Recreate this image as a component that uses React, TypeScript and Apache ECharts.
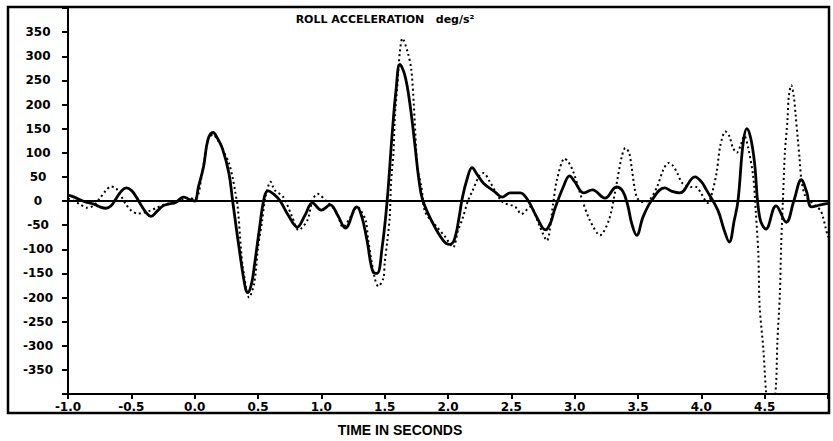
import React, { useEffect, useRef } from "react";
import * as echarts from "echarts";

// Measured roll acceleration (solid curve)
const measuredTime = [
  -1.0, -0.95, -0.9, -0.85, -0.8, -0.75, -0.7, -0.66, -0.62, -0.58, -0.54, -0.5, -0.46, -0.42, -0.38, -0.345, -0.3, -0.25,
  -0.2, -0.15, -0.09, -0.04, 0.0, 0.03, 0.07, 0.105, 0.145, 0.18, 0.22, 0.27, 0.3, 0.35, 0.4, 0.42, 0.45, 0.47, 0.51,
  0.55, 0.58, 0.62, 0.67, 0.74, 0.81, 0.87, 0.93, 1.0, 1.07, 1.13, 1.19, 1.28, 1.32, 1.36, 1.41, 1.44, 1.48, 1.52,
  1.56, 1.59, 1.62, 1.66, 1.7, 1.74, 1.77, 1.8, 1.88, 1.96, 2.01, 2.05, 2.09, 2.11, 2.15, 2.19, 2.23, 2.28, 2.37,
  2.43, 2.49, 2.57, 2.63, 2.7, 2.77, 2.81, 2.84, 2.91, 2.96, 3.0, 3.07, 3.14, 3.24, 3.33, 3.38, 3.42, 3.45, 3.49,
  3.54, 3.61, 3.71, 3.77, 3.83, 3.95, 4.0, 4.04, 4.13, 4.18, 4.22, 4.26, 4.29, 4.33, 4.36, 4.39, 4.42, 4.46, 4.51,
  4.59, 4.67, 4.73, 4.79, 4.83, 4.87, 4.94, 5.0,
];
const measuredValue = [
  12, 8, 2, -3, -6, -12, -15, -10, 5, 20, 27, 22, 8, -10, -25, -32, -22, -10,
  -6, -3, 8, 3, 0, 30, 71, 127, 142, 130, 108, 58, 0, -96, -180, -190, -170, -137, -60,
  8, 21, 15, 2, -30, -54, -30, -4, -19, -8, -30, -56, -12, -33, -81, -148, -150, -96, 2,
  142, 230, 283, 260, 200, 113, 45, 2, -46, -81, -90, -80, -30, 2, 45, 69, 55, 37, 19,
  8, 17, 17, 2, -33, -60, -45, -19, 29, 52, 40, 17, 23, 6, 29, 20, -10, -46, -71,
  -33, 2, 27, 20, 17, 50, 40, 23, -19, -60, -85, -40, 2, 120, 150, 130, 79, -33, -58,
  -10, -44, 0, 44, 20, -12, -8, -5,
];

// Simulated roll acceleration (dotted curve)
const simTime = [
  -1.0, -0.95, -0.9, -0.85, -0.8, -0.75, -0.7, -0.66, -0.62, -0.58, -0.54, -0.5, -0.45, -0.4, -0.35, -0.3, -0.25, -0.2,
  -0.15, -0.1, -0.05, 0.0, 0.03, 0.05, 0.08, 0.11, 0.145, 0.19, 0.23, 0.27, 0.3, 0.32, 0.34, 0.365, 0.38, 0.43, 0.47,
  0.5, 0.515, 0.53, 0.56, 0.6, 0.63, 0.7, 0.77, 0.82, 0.89, 0.93, 0.97, 1.03, 1.12, 1.17, 1.25, 1.28, 1.3, 1.35,
  1.37, 1.42, 1.45, 1.49, 1.5, 1.52, 1.54, 1.55, 1.57, 1.58, 1.6, 1.62, 1.64, 1.68, 1.71, 1.73, 1.75, 1.76, 1.79,
  1.82, 1.9, 1.98, 2.04, 2.08, 2.11, 2.16, 2.19, 2.25, 2.28, 2.33, 2.43, 2.53, 2.58, 2.65, 2.72, 2.78, 2.83, 2.86,
  2.92, 2.95, 2.99, 3.06, 3.12, 3.2, 3.27, 3.32, 3.37, 3.4, 3.43, 3.45, 3.49, 3.54, 3.59, 3.65, 3.7, 3.74, 3.77,
  3.81, 3.85, 3.92, 3.96, 4.0, 4.05, 4.08, 4.12, 4.15, 4.19, 4.22, 4.25, 4.28, 4.31, 4.34, 4.37, 4.41, 4.43, 4.45,
  4.46, 4.49, 4.51, 4.55, 4.59, 4.6, 4.62, 4.63, 4.645, 4.66, 4.68, 4.69, 4.71, 4.73, 4.745, 4.76, 4.775, 4.79,
  4.82, 4.86, 4.9, 4.94, 4.96, 4.98, 5.0,
];
const simValue = [
  5, 0, -8, -14, -10, 5, 22, 30, 26, 10, -8, -20, -26, -24, -20, -14, -8, -5,
  -2, 3, 7, 4, 15, 44, 90, 131, 137, 123, 102, 79, 48, 19, -12, -98, -137, -200, -171,
  -96, -70, -46, 10, 40, 23, 8, -33, -60, -40, 2, 15, 2, -23, -54, -25, -12, -15, -40,
  -81, -158, -177, -160, -129, -85, -33, 37, 102, 173, 238, 310, 337, 310, 273, 200, 100, 65, 29,
  -23, -50, -75, -96, -60, -40, 2, 19, 54, 58, 40, -2, -12, -27, -12, -50, -82, -5, 44,
  88, 81, 60, 2, -40, -71, -40, 20, 90, 110, 100, 69, 8, -2, 2, 29, 65, 79, 75,
  58, 37, 29, 29, 15, -4, 12, 58, 115, 144, 135, 110, 100, 115, 135, 110, 50, -23, -110,
  -217, -308, -392, -500, -379, -294, -194, -92, 8, 102, 167, 215, 240, 217, 177, 133, 90, 44,
  10, 0, -10, -19, -33, -54, -75,
];

const xTicks = { min: -1, max: 5, step: 0.5 };
const yTicks = { min: -400, max: 400, step: 50 };

const titleText = "ROLL ACCELERATION   deg/s²";
const xAxisTitle = "TIME IN SECONDS";

export default function App() {
  const ref = useRef<HTMLDivElement>(null);
  useEffect(() => {
    if (!ref.current) return;
    const chart = echarts.init(ref.current, undefined, { renderer: "svg" });
    const measured = measuredTime.map((t, i) => [t, measuredValue[i]]);
    const sim = simTime.map((t, i) => [t, simValue[i]]);
    const labelFont = {
      color: "#000",
      fontWeight: "bold" as const,
      fontSize: 12,
      fontFamily: "DejaVu Sans",
    };
    chart.setOption({
      animation: false,
      backgroundColor: "#fff",
      grid: { left: 68, top: 8, width: 760, height: 386 },
      xAxis: {
        type: "value",
        min: xTicks.min,
        max: xTicks.max,
        interval: xTicks.step,
        axisLine: { show: true, onZero: false, lineStyle: { color: "#000", width: 2 } },
        axisTick: { show: true, length: 5, lineStyle: { color: "#000", width: 2 } },
        splitLine: { show: false },
        axisLabel: {
          ...labelFont,
          margin: 7,
          formatter: (v: number) => (v >= 5 ? "" : v.toFixed(1)),
        },
      },
      yAxis: {
        type: "value",
        min: yTicks.min,
        max: yTicks.max,
        interval: yTicks.step,
        axisLine: { show: true, onZero: false, lineStyle: { color: "#000", width: 2 } },
        axisTick: { show: true, length: 6, lineStyle: { color: "#000", width: 2 } },
        splitLine: { show: false },
        axisLabel: {
          ...labelFont,
          align: "center",
          margin: 30,
          formatter: (v: number) => (Math.abs(v) >= 400 ? "" : String(v)),
        },
      },
      series: [
        {
          type: "line",
          data: sim,
          smooth: 0.3,
          showSymbol: false,
          clip: true,
          lineStyle: { color: "#000", width: 2, type: [2, 3] },
          z: 2,
        },
        {
          type: "line",
          data: measured,
          smooth: 0.4,
          showSymbol: false,
          clip: true,
          lineStyle: { color: "#000", width: 2.8 },
          z: 3,
          markLine: {
            silent: true,
            symbol: ["none", "none"],
            label: { show: false },
            lineStyle: { color: "#000", width: 2, type: "solid" },
            data: [{ yAxis: 0 }],
          },
        },
      ],
      graphic: [
        {
          type: "rect",
          shape: { x: 8, y: 7, width: 821, height: 406 },
          style: { fill: "none", stroke: "#000", lineWidth: 2.5 },
          silent: true,
        },
        {
          type: "text",
          x: 385,
          y: 19,
          style: {
            text: titleText,
            fill: "#000",
            font: "bold 11px 'DejaVu Sans'",
            textAlign: "center",
            textVerticalAlign: "middle",
          },
        },
        {
          type: "text",
          x: 400,
          y: 430,
          style: {
            text: xAxisTitle,
            fill: "#000",
            font: "bold 14px 'Liberation Sans', Arial, sans-serif",
            textAlign: "center",
            textVerticalAlign: "middle",
          },
        },
      ],
    });
    return () => chart.dispose();
  }, []);
  return (
    <div
      ref={ref}
      style={{ position: "absolute", left: 0, top: 0, width: 833, height: 441, background: "#fff" }}
    />
  );
}
